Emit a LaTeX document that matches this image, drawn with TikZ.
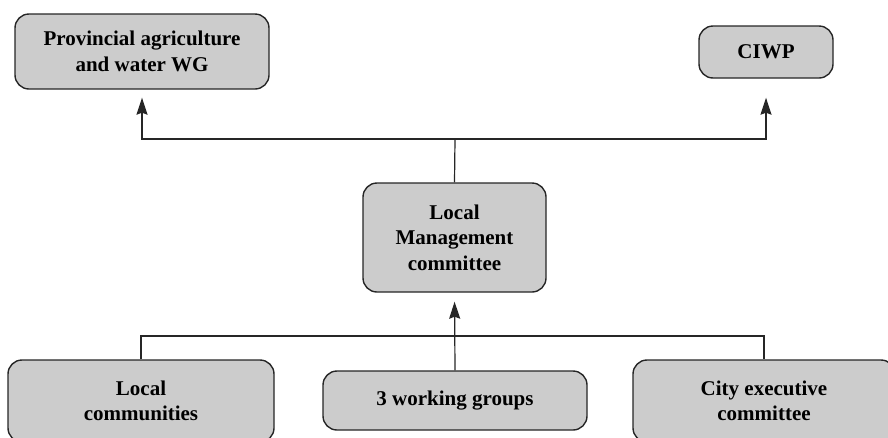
\documentclass[tikz,border=0pt]{standalone}
\usepackage{fontspec}
\setmainfont{Liberation Serif}
\usetikzlibrary{arrows.meta}
\definecolor{boxfill}{gray}{0.80}
\definecolor{boxline}{gray}{0.15}
\tikzset{
  orgbox/.style={draw=boxline, fill=boxfill, line width=1.4pt, rounded corners=14pt,
    font=\fontsize{21}{25.5}\selectfont\bfseries, align=center, inner sep=0pt},
  link/.style={draw=boxline, line width=1.2pt},
  arr/.style={link, -{Stealth[length=17pt, width=11pt, inset=2pt]}}
}
\begin{document}
\begin{tikzpicture}[x=1pt, y=-1pt]
\useasboundingbox (0,0) rectangle (888,437);
% boxes
\node[orgbox, minimum width=254pt, minimum height=75pt] (prov) at (142,51.5)
  {Provincial agriculture\\and water WG};
\node[orgbox, minimum width=134pt, minimum height=52pt] (ciwp) at (766,52) {CIWP};
\node[orgbox, minimum width=183pt, minimum height=109pt] (lmc) at (454.5,237.5)
  {Local\\Management\\committee};
\node[orgbox, minimum width=266pt, minimum height=82pt] (lc) at (141,401)
  {Local\\communities};
\node[orgbox, minimum width=264pt, minimum height=59pt] (wg) at (455,400.5)
  {3 working groups};
\node[orgbox, minimum width=262pt, minimum height=82pt] (cec) at (764,401)
  {City executive\\committee};
% junctions
\coordinate (top) at (455,139);
\coordinate (bot) at (455,336);
% upward links
\draw[link] (lmc.north) -- (top);
\draw[arr, shorten >=8pt] (top) -| (prov.south);
\draw[arr, shorten >=19pt] (top) -| (ciwp.south);
% lower links
\draw[link] (lc.north) |- (bot) -| (cec.north);
\draw[arr, shorten >=9pt] (wg.north) -- (lmc.south);
\end{tikzpicture}
\end{document}
